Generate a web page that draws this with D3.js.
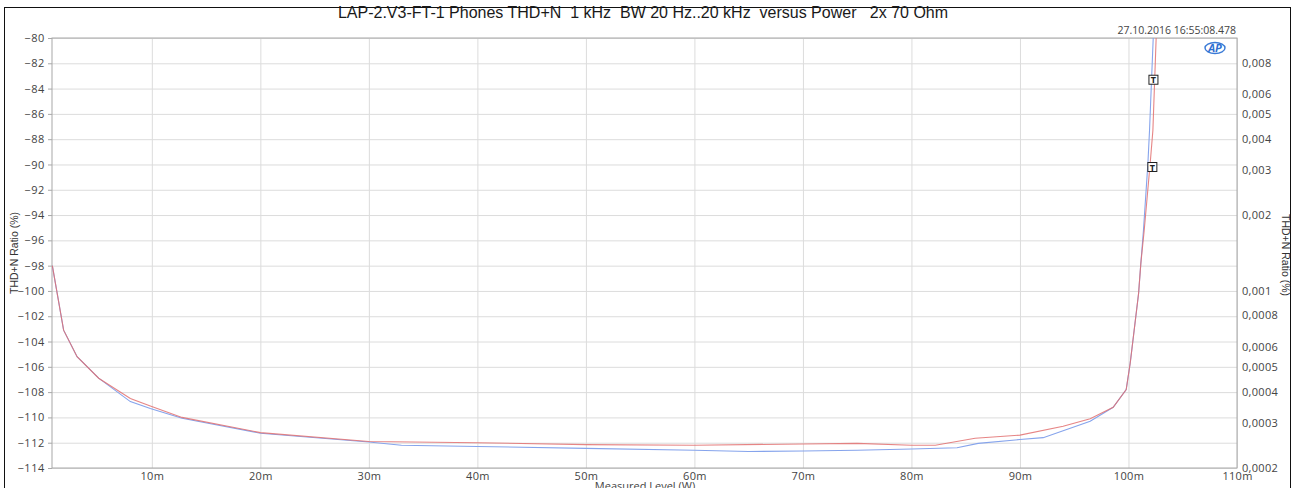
<!DOCTYPE html>
<html>
<head>
<meta charset="utf-8">
<script src="https://cdn.jsdelivr.net/npm/d3@7"></script>
<style>
  body { margin: 0; background: #fff; }
  text { font-family: "Open Sans", "DejaVu Sans", sans-serif; }
  .grid line { stroke: #dcdcdc; }
  .grid path { display: none; }
</style>
</head>
<body>
<svg id="chart" width="1297" height="488"></svg>
<script>
// measured level in mW, THD+N in dB
const blueLevel = [0.83, 1.87, 3.11, 5.1, 8.02, 9.86, 12.78, 20, 30, 33, 40, 50, 60, 65, 70, 75, 80, 84.2, 86.15, 90, 92.14, 96.47, 98.59, 99.79, 100.16, 100.93, 101.14, 101.38, 101.79, 101.94, 102.28];
const blueThd = [-98, -103.1, -105.2, -106.9, -108.75, -109.3, -110.06, -111.25, -111.95, -112.2, -112.3, -112.45, -112.6, -112.7, -112.65, -112.6, -112.5, -112.4, -112.05, -111.75, -111.6, -110.3, -109.2, -107.8, -105.7, -100.2, -97.8, -95.2, -89.9, -87.3, -80];

const redLevel = [0.83, 1.87, 3.11, 5.1, 8.02, 9.86, 12.78, 20, 30, 40, 50, 60, 70, 75, 80, 82.2, 85.87, 90, 93.98, 96.47, 98.59, 99.79, 100.16, 100.93, 101.14, 101.45, 102.0, 102.25, 102.55];
const redThd = [-98, -103.1, -105.2, -106.9, -108.5, -109.1, -110.0, -111.2, -111.9, -112.0, -112.15, -112.2, -112.1, -112.05, -112.2, -112.2, -111.65, -111.4, -110.7, -110.1, -109.2, -107.8, -105.7, -100.2, -97.8, -95.2, -89.9, -87.3, -80];

const xTicks = [10, 20, 30, 40, 50, 60, 70, 80, 90, 100, 110];
const dbTicks = [-80, -82, -84, -86, -88, -90, -92, -94, -96, -98, -100, -102, -104, -106, -108, -110, -112, -114];
const pctTicks = [0.008, 0.006, 0.005, 0.004, 0.003, 0.002, 0.001, 0.0008, 0.0006, 0.0005, 0.0004, 0.0003, 0.0002];

// cursor markers [level, dB]
const markers = [[102.3, -83.3], [102.2, -90.2]];

const titleText = "LAP-2.V3-FT-1 Phones THD+N  1 kHz  BW 20 Hz..20 kHz  versus Power   2x 70 Ohm";
const stampText = "27.10.2016 16:55:08.478";

const plotL = 52, plotR = 1237, plotT = 38, plotB = 468;

const svg = d3.select("#chart");

// outer frame
svg.append("rect")
    .attr("x", 4.5).attr("y", 7.5)
    .attr("width", 1286).attr("height", 500)
    .attr("fill", "none").attr("stroke", "#111").attr("stroke-width", 1);

const x = d3.scaleLinear([0.8, 110], [plotL, plotR]);
const y = d3.scaleLinear([-114, -80], [plotB, plotT]);
const yPct = d3.scaleLog([100 * Math.pow(10, -114 / 20), 100 * Math.pow(10, -80 / 20)], [plotB, plotT]);

// grid
svg.append("g").attr("class", "grid")
    .attr("transform", `translate(0,${plotB})`)
    .call(d3.axisBottom(x).tickValues(xTicks).tickFormat("").tickSize(-(plotB - plotT)));
svg.append("g").attr("class", "grid")
    .attr("transform", `translate(${plotL},0)`)
    .call(d3.axisLeft(y).tickValues(dbTicks).tickFormat("").tickSize(-(plotR - plotL)));

// plot box
svg.append("rect")
    .attr("x", plotL).attr("y", plotT)
    .attr("width", plotR - plotL).attr("height", plotB - plotT)
    .attr("fill", "none").attr("stroke", "#a8a8a8");

// left axis
let gl = svg.append("g")
    .attr("transform", `translate(${plotL},0)`)
    .call(d3.axisLeft(y).tickValues(dbTicks).tickSize(4).tickPadding(3));
gl.select(".domain").remove();
gl.selectAll("line").attr("stroke", "#a8a8a8");
gl.selectAll("text").attr("font-size", 11).attr("fill", "#444").attr("letter-spacing", 0.6);

// right axis
let gr = svg.append("g")
    .attr("transform", `translate(${plotR},0)`)
    .call(d3.axisRight(yPct).tickValues(pctTicks).tickSize(0).tickPadding(5)
        .tickFormat(d => String(+d.toPrecision(2)).replace(".", ",")));
gr.select(".domain").remove();
gr.selectAll("text").attr("font-size", 11).attr("fill", "#444").attr("letter-spacing", 0.3);

// bottom axis
let gb = svg.append("g")
    .attr("transform", `translate(0,${plotB})`)
    .call(d3.axisBottom(x).tickValues(xTicks).tickSize(0).tickPadding(4)
        .tickFormat(d => d + "m"));
gb.select(".domain").remove();
gb.selectAll("text").attr("font-size", 11).attr("fill", "#444").attr("letter-spacing", 0.3);

// curves
svg.append("clipPath").attr("id", "plotclip")
    .append("rect").attr("x", plotL).attr("y", plotT)
    .attr("width", plotR - plotL).attr("height", plotB - plotT);

const line = d3.line().x(d => x(d[0])).y(d => y(d[1]));
const plot = svg.append("g").attr("clip-path", "url(#plotclip)");

plot.append("path")
    .datum(d3.zip(blueLevel, blueThd))
    .attr("d", line)
    .attr("fill", "none").attr("stroke", "#86a4ec").attr("stroke-width", 1.1);
plot.append("path")
    .datum(d3.zip(redLevel, redThd))
    .attr("d", line)
    .attr("fill", "none").attr("stroke", "#e27070").attr("stroke-width", 1.1).attr("stroke-opacity", 0.85);

// markers
markers.forEach(m => {
    let g = svg.append("g").attr("transform", `translate(${x(m[0])},${y(m[1])})`);
    g.append("rect").attr("x", -4.5).attr("y", -4.5).attr("width", 9).attr("height", 9)
        .attr("fill", "#fff").attr("stroke", "#222");
    g.append("text").attr("text-anchor", "middle").attr("y", 3.5)
        .attr("font-size", 9).attr("font-weight", "bold").attr("fill", "#222").text("T");
});

// AP logo
let ap = svg.append("g").attr("transform", "translate(1215,48)");
ap.append("ellipse").attr("rx", 10).attr("ry", 5.5)
    .attr("fill", "none").attr("stroke", "#3a7ad6").attr("stroke-width", 1.4);
ap.append("text").attr("text-anchor", "middle").attr("y", 4)
    .attr("font-size", 11).attr("font-style", "italic").attr("font-weight", "bold")
    .attr("fill", "#2f6fd0").text("AP");

// titles
svg.append("text")
    .attr("x", 643).attr("y", 18)
    .attr("text-anchor", "middle")
    .style("white-space", "pre")
    .style("font-family", "'Liberation Sans', Arial, sans-serif")
    .attr("font-size", 16).attr("fill", "#1a1a1a")
    .text(titleText);

svg.append("text")
    .attr("x", 1236).attr("y", 34)
    .attr("text-anchor", "end")
    .attr("font-size", 10.5).attr("fill", "#444")
    .text(stampText);

svg.append("text")
    .attr("transform", "translate(18,253) rotate(-90)")
    .attr("text-anchor", "middle")
    .style("font-family", "'Liberation Sans Narrow', 'Liberation Sans', sans-serif")
    .attr("font-size", 10.5).attr("fill", "#333")
    .text("THD+N Ratio (%)");

svg.append("text")
    .attr("transform", "translate(1282,255) rotate(90)")
    .attr("text-anchor", "middle")
    .style("font-family", "'Liberation Sans Narrow', 'Liberation Sans', sans-serif")
    .attr("font-size", 10.5).attr("fill", "#333")
    .text("THD+N Ratio (%)");

svg.append("text")
    .attr("x", 645).attr("y", 490)
    .attr("text-anchor", "middle")
    .attr("font-size", 11).attr("fill", "#444")
    .text("Measured Level (W)");
</script>
</body>
</html>
